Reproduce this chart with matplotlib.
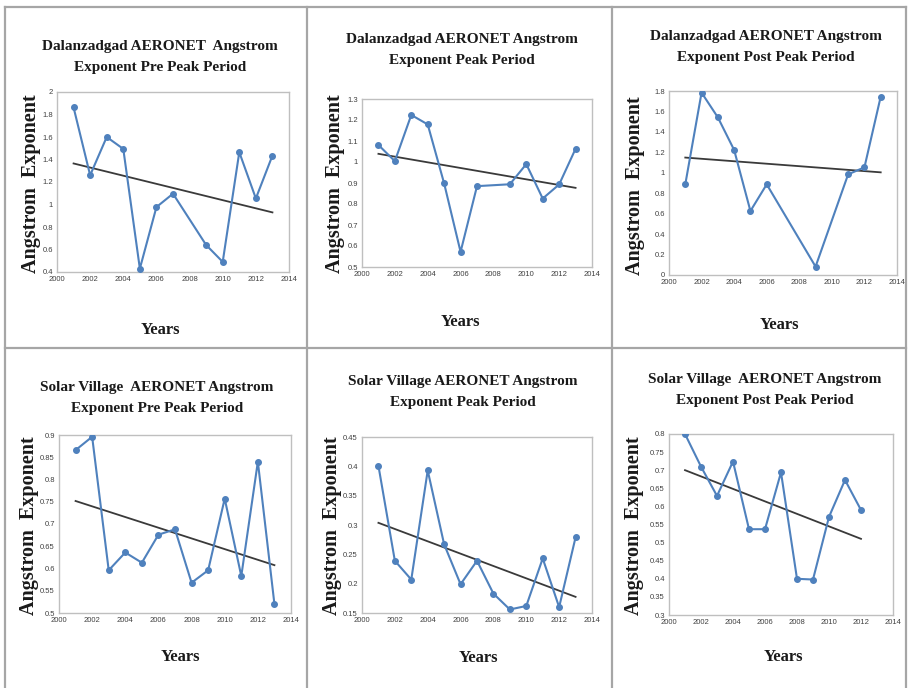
import matplotlib
matplotlib.use("Agg")
import matplotlib.pyplot as plt
from matplotlib.lines import Line2D
import numpy as np

W, H = 908, 688

# ---- data ----
titles = [
    "Dalanzadgad AERONET  Angstrom\nExponent Pre Peak Period",
    "Dalanzadgad AERONET Angstrom\nExponent Peak Period",
    "Dalanzadgad AERONET Angstrom\nExponent Post Peak Period",
    "Solar Village  AERONET Angstrom\nExponent Pre Peak Period",
    "Solar Village AERONET Angstrom\nExponent Peak Period",
    "Solar Village  AERONET Angstrom\nExponent Post Peak Period",
]

years_dal_pre = [2001, 2002, 2003, 2004, 2005, 2006, 2007, 2009, 2010, 2011, 2012, 2013]
ae_dal_pre = [1.863, 1.26, 1.60, 1.494, 0.43, 0.977, 1.096, 0.64, 0.49, 1.465, 1.054, 1.435]

years_dal_peak = [2001, 2002, 2003, 2004, 2005, 2006, 2007, 2009, 2010, 2011, 2012, 2013]
ae_dal_peak = [1.081, 1.004, 1.224, 1.179, 0.898, 0.572, 0.885, 0.894, 0.99, 0.826, 0.893, 1.063]

years_dal_post = [2001, 2002, 2003, 2004, 2005, 2006, 2009, 2011, 2012, 2013]
ae_dal_post = [0.887, 1.784, 1.542, 1.223, 0.626, 0.887, 0.082, 0.985, 1.053, 1.745]

years_sv_pre = [2001, 2002, 2003, 2004, 2005, 2006, 2007, 2008, 2009, 2010, 2011, 2012, 2013]
ae_sv_pre = [0.866, 0.896, 0.596, 0.636, 0.613, 0.676, 0.688, 0.568, 0.596, 0.757, 0.583, 0.84, 0.52]

years_sv_peak = [2001, 2002, 2003, 2004, 2005, 2006, 2007, 2008, 2009, 2010, 2011, 2012, 2013]
ae_sv_peak = [0.401, 0.239, 0.207, 0.393, 0.267, 0.199, 0.239, 0.183, 0.156, 0.162, 0.243, 0.160, 0.279]

years_sv_post = [2001, 2002, 2003, 2004, 2005, 2006, 2007, 2008, 2009, 2010, 2011, 2012]
ae_sv_post = [0.80, 0.71, 0.629, 0.724, 0.537, 0.537, 0.694, 0.40, 0.398, 0.571, 0.673, 0.59]

x_ticks = [2000, 2002, 2004, 2006, 2008, 2010, 2012, 2014]
y_ticks = [
    [0.4, 0.6, 0.8, 1.0, 1.2, 1.4, 1.6, 1.8, 2.0],
    [0.5, 0.6, 0.7, 0.8, 0.9, 1.0, 1.1, 1.2, 1.3],
    [0, 0.2, 0.4, 0.6, 0.8, 1.0, 1.2, 1.4, 1.6, 1.8],
    [0.5, 0.55, 0.6, 0.65, 0.7, 0.75, 0.8, 0.85, 0.9],
    [0.15, 0.2, 0.25, 0.3, 0.35, 0.4, 0.45],
    [0.3, 0.35, 0.4, 0.45, 0.5, 0.55, 0.6, 0.65, 0.7, 0.75, 0.8],
]

series = [
    (years_dal_pre, ae_dal_pre),
    (years_dal_peak, ae_dal_peak),
    (years_dal_post, ae_dal_post),
    (years_sv_pre, ae_sv_pre),
    (years_sv_peak, ae_sv_peak),
    (years_sv_post, ae_sv_post),
]

# ---- layout (pixels) ----
axes_px = [  # left, top, right, bottom
    (57, 92, 289, 272),
    (362, 99, 592, 267),
    (669, 91, 897, 275),
    (59, 435, 291, 613),
    (362, 437, 592, 613),
    (669, 434, 893, 615),
]
title_px = [(160, 57), (462, 50), (766, 47), (157, 398), (463, 392), (765, 390)]
years_px = [(160, 330), (460, 322), (779, 325), (180, 657), (478, 658), (783, 657)]
ylab_px = [(31, 184), (335, 184), (635, 186), (29, 526), (332, 526), (634, 526)]

fig = plt.figure(figsize=(W / 100, H / 100), dpi=100)
fig.patch.set_facecolor("white")

def fx(x):
    return x / W

def fy(y):
    return 1 - y / H

serif = ["Liberation Serif", "DejaVu Serif"]
tickfont = ["Liberation Sans Narrow", "Liberation Sans", "DejaVu Sans"]

blue = "#4F81BD"

for i, ((xs, ys), (l, t, r, b)) in enumerate(zip(series, axes_px)):
    ax = fig.add_axes([fx(l), fy(b), fx(r) - fx(l), fy(t) - fy(b)])
    ax.plot(xs, ys, color=blue, lw=1.5, marker="o", ms=4.0, zorder=3)
    coef = np.polyfit(xs, ys, 1)
    xt = np.array([xs[0], xs[-1]])
    ax.plot(xt, np.polyval(coef, xt), color="#3a3a3a", lw=1.3, zorder=2)
    yt = y_ticks[i]
    ax.set_xlim(2000, 2014)
    ax.set_ylim(yt[0], yt[-1])
    ax.set_xticks(x_ticks)
    ax.set_yticks(yt)
    ax.set_xticklabels([str(v) for v in x_ticks], fontfamily=tickfont, fontsize=5.5, color="#404040")
    ax.set_yticklabels([f"{v:g}" for v in yt], fontfamily=tickfont, fontsize=5.5, color="#404040")
    ax.tick_params(length=0, pad=3)
    for s in ax.spines.values():
        s.set_color("#bfbfbf")
        s.set_linewidth(1.0)

    tx, ty = title_px[i]
    fig.text(fx(tx), fy(ty), titles[i], ha="center", va="center", fontfamily=serif,
             fontweight="bold", fontsize=11, linespacing=1.75, color="#1a1a1a")
    yx, yy = years_px[i]
    fig.text(fx(yx), fy(yy), "Years", ha="center", va="center", fontfamily=serif,
             fontweight="bold", fontsize=12, color="#1a1a1a")
    lx, ly = ylab_px[i]
    fig.text(fx(lx), fy(ly), "Angstrom  Exponent", ha="center", va="center", rotation=90,
             fontfamily=serif, fontweight="bold", fontsize=14.5, color="#1a1a1a")

# cell borders
gc = "#a6a6a6"
for x in (5, 307, 612, 906):
    fig.add_artist(Line2D([fx(x), fx(x)], [fy(7), fy(688)], color=gc, lw=1.6))
for y in (7, 348):
    fig.add_artist(Line2D([fx(5), fx(906)], [fy(y), fy(y)], color=gc, lw=1.6))

fig.savefig("out.png", dpi=100)
